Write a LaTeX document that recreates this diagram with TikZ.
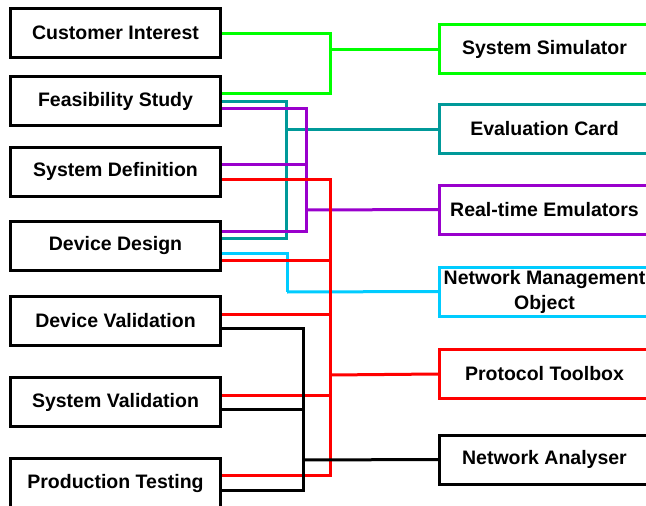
\documentclass[tikz,border=0pt]{standalone}
\usepackage{fontspec}
\setmainfont{Liberation Sans}
\definecolor{cgreen}{HTML}{00FF00}
\definecolor{cteal}{HTML}{009999}
\definecolor{cpurple}{HTML}{9900CC}
\definecolor{cred}{HTML}{FF0000}
\definecolor{ccyan}{HTML}{00CCFF}
\tikzset{
  box/.style={draw=black, line width=3pt, fill=white, minimum width=210pt, minimum height=49pt,
    inner sep=0pt, align=center, font=\fontsize{19.5}{25}\selectfont\bfseries},
  rbox/.style={box, draw=#1},
  wire/.style={line width=3pt, draw=#1, line join=miter, line cap=butt},
}
\begin{document}
\begin{tikzpicture}[x=1pt,y=-1pt]
\useasboundingbox (0,0) rectangle (646,506);
\clip (0,0) rectangle (646,506);
% left boxes
\node[box] (CI) at (115.5,33) {Customer Interest};
\node[box] (FS) at (115.5,101) {Feasibility Study};
\node[box] (SD) at (115.5,171.5) {System Definition};
\node[box] (DD) at (115.5,245.5) {Device Design};
\node[box] (DV) at (115.5,321) {Device Validation};
\node[box] (SV) at (115.5,402) {System Validation};
\node[box] (PT) at (115.5,483) {Production Testing};
% right boxes
\node[rbox=cgreen] (SS) at (544.5,49) {System Simulator};
\node[rbox=cteal] (EC) at (544.5,129) {Evaluation Card};
\node[rbox=cpurple] (RE) at (544.5,209.5) {Real-time Emulators};
\node[rbox=ccyan] (NM) at (544.5,291.5) {Network Management\\Object};
\node[rbox=cred] (TB) at (544.5,374) {Protocol Toolbox};
\node[rbox=black] (NA) at (544.5,459.5) {Network Analyser};
% junctions
\coordinate (jg) at (330,49);
\coordinate (jt) at (286,129);
\coordinate (jp) at (306,210);
\coordinate (jr) at (330,375);
\coordinate (jc) at (287,292);
\coordinate (jk) at (303,460);
% green
\draw[wire=cgreen] (CI.east) -| (jg);
\draw[wire=cgreen] ([yshift=8pt]FS.east) -| (jg);
\draw[wire=cgreen] (jg) -- (SS.west);
% teal
\draw[wire=cteal] (FS.east) -| (jt);
\draw[wire=cteal] ([yshift=7.5pt]DD.east) -| (jt);
\draw[wire=cteal] (jt) -- (EC.west);
% purple
\draw[wire=cpurple] ([yshift=-7pt]FS.east) -| (jp);
\draw[wire=cpurple] ([yshift=7.5pt]SD.east) -| (jp);
\draw[wire=cpurple] ([yshift=14.5pt]DD.east) -| (jp);
\draw[wire=cpurple] (jp) -- (RE.west);
% cyan
\draw[wire=ccyan] ([yshift=-7.5pt]DD.east) -| (jc);
\draw[wire=ccyan] (jc) -- (NM.west);
% red
\draw[wire=cred] ([yshift=-7.5pt]SD.east) -| (jr);
\draw[wire=cred] ([yshift=-14.5pt]DD.east) -| (jr);
\draw[wire=cred] ([yshift=7pt]DV.east) -| (jr);
\draw[wire=cred] ([yshift=7pt]SV.east) -| (jr);
\draw[wire=cred] ([yshift=8pt]PT.east) -| (jr);
\draw[wire=cred] (jr) -- (TB.west);
% black
\draw[wire=black] ([yshift=-7pt]DV.east) -| (jk);
\draw[wire=black] ([yshift=-7pt]SV.east) -| (jk);
\draw[wire=black] ([yshift=-7pt]PT.east) -| (jk);
\draw[wire=black] (jk) -- (NA.west);
\end{tikzpicture}
\end{document}
